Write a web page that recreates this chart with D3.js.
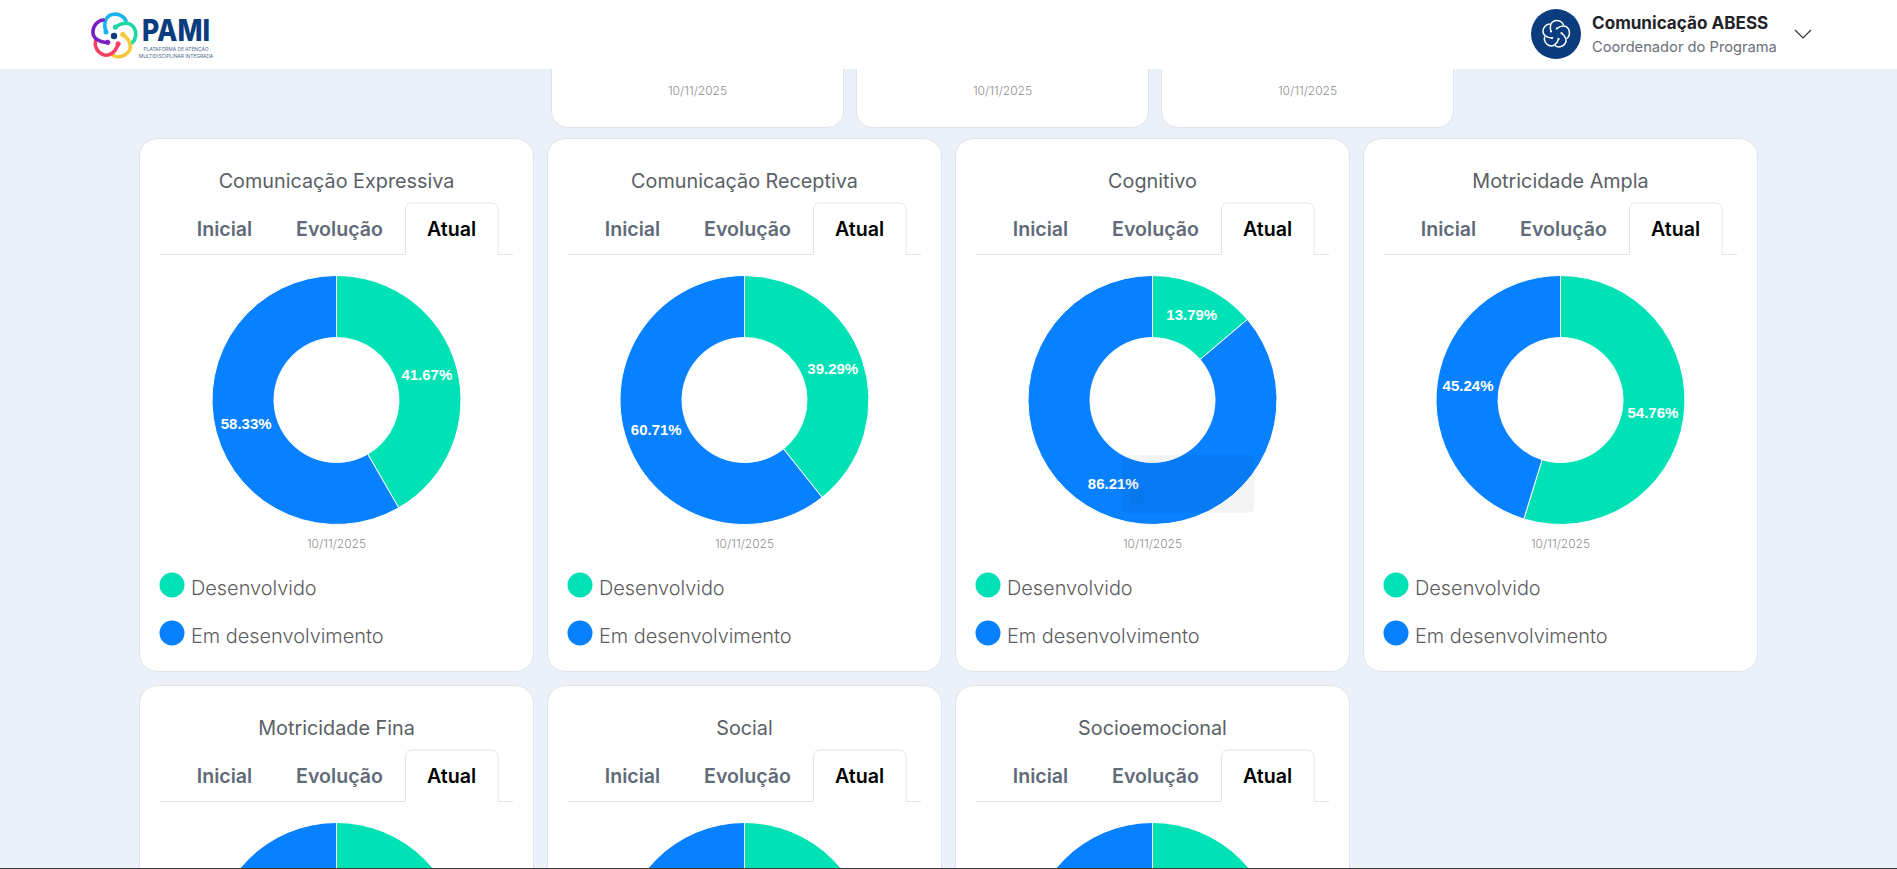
<!DOCTYPE html>
<html>
<head>
<meta charset="utf-8">
<title>PAMI</title>
<script src="https://cdn.jsdelivr.net/npm/d3@7"></script>
<style>
    html, body { margin: 0; padding: 0; overflow: hidden; background: #ebf0f9; }
    svg { display: block; }
    text { font-family: Inter, "Noto Sans", sans-serif; }
    .pct { font-family: "Liberation Sans", Arial, sans-serif; font-weight: 700; font-size: 15px; fill: #fff; }
</style>
</head>
<body>
<svg id="page" width="1897" height="869"></svg>
<script>
// Chart values
var areas = ['Comunicação Expressiva', 'Comunicação Receptiva', 'Cognitivo', 'Motricidade Ampla',
    'Motricidade Fina', 'Social', 'Socioemocional'];
var desenvolvido = [41.67, 39.29, 13.79, 54.76, 50, 50, 50];     // last three are below the fold, estimated
var emDesenvolvimento = [58.33, 60.71, 86.21, 45.24, 50, 50, 50];
var legendLabels = ['Desenvolvido', 'Em desenvolvimento'];
var tabs = ['Inicial', 'Evolução', 'Atual'];
var chartDate = '10/11/2025';
var topCardDates = [chartDate, chartDate, chartDate];

var GREEN = '#00e2b6', BLUE = '#0781ff', BORDER = '#dfe3ec';
var color = d3.scaleOrdinal().domain(legendLabels).range([GREEN, BLUE]);

var svg = d3.select('#page');

// Row of cards scrolled under the header
var topCards = svg.append('g').selectAll('g')
    .data(topCardDates)
    .join('g')
    .attr('transform', function(d, i) { return 'translate(' + (552 + i * 305) + ',0)'; });

topCards.append('rect')
    .attr('x', -0.5).attr('y', 20.5)
    .attr('width', 292).attr('height', 107)
    .attr('rx', 16)
    .attr('fill', '#fff').attr('stroke', BORDER);

topCards.append('text')
    .attr('x', 145.5).attr('y', 95)
    .attr('text-anchor', 'middle')
    .attr('font-size', 12).attr('font-weight', 300).attr('fill', '#8f8f8f')
    .text(function(d) { return d; });

// Donut cards
var pie = d3.pie().sort(null).value(function(d) { return d.value; });
var arc = d3.arc().innerRadius(62.5).outerRadius(124.5);

function slices(d, i) {
    return pie([
        {key: legendLabels[0], value: desenvolvido[i]},
        {key: legendLabels[1], value: emDesenvolvimento[i]}
    ]);
}

var cards = svg.append('g').selectAll('g')
    .data(areas)
    .join('g')
    .attr('transform', function(d, i) {
        return 'translate(' + (140 + (i % 4) * 408) + ',' + (139 + Math.floor(i / 4) * 547) + ')';
    });

// The second row runs past the window, only the first row shows its lower half
var fullCards = cards.filter(function(d, i) { return i < 4; });

cards.append('rect')
    .attr('x', -0.5).attr('y', -0.5)
    .attr('width', 394).attr('height', 533)
    .attr('rx', 18)
    .attr('fill', '#fff').attr('stroke', BORDER);

cards.append('text')
    .attr('x', 196.5).attr('y', 48.5)
    .attr('text-anchor', 'middle')
    .attr('font-size', 19.8).attr('fill', '#5a5f66')
    .text(function(d) { return d; });

// Tab strip
cards.append('path')
    .attr('d', 'M20,115.5H265.5V70a6,6 0 0 1 6,-6H352a6,6 0 0 1 6,6V115.5H373')
    .attr('fill', 'none').attr('stroke', BORDER);

var tabCenters = [84.5, 199.5, 311.5];
tabs.forEach(function(tab, t) {
    cards.append('text')
        .attr('x', tabCenters[t]).attr('y', 97)
        .attr('text-anchor', 'middle')
        .attr('font-size', 19.6).attr('font-weight', 600)
        .attr('fill', t === 2 ? '#000' : '#5f6b78')
        .text(tab);
});

// Donuts
var donuts = cards.append('g')
    .attr('transform', 'translate(196.5,261)');

donuts.selectAll('path')
    .data(slices)
    .join('path')
    .attr('d', arc)
    .attr('fill', function(d) { return color(d.data.key); })
    .attr('stroke', '#fff').attr('stroke-width', 1);

// Leftover tooltip fading out over the Cognitivo donut
var ghost = svg.append('g').attr('transform', 'translate(1122,455)');
ghost.append('rect').attr('width', 132).attr('height', 58).attr('rx', 6).attr('fill', 'rgba(0,0,0,0.045)');
ghost.append('text').attr('x', 10).attr('y', 22)
    .attr('font-size', 14).attr('font-weight', 700).attr('fill', 'rgba(0,0,0,0.025)')
    .text('A Desenvolver');
ghost.append('rect').attr('x', 8).attr('y', 35).attr('width', 15).attr('height', 15).attr('fill', 'rgba(0,0,0,0.02)');
ghost.append('text').attr('x', 26).attr('y', 48)
    .attr('font-size', 14).attr('fill', 'rgba(0,0,0,0.025)')
    .text(chartDate);

fullCards.select('g').selectAll('text')
    .data(function(d) { return slices(d, areas.indexOf(d)); })
    .join('text')
    .attr('class', 'pct')
    .attr('transform', function(d) { return 'translate(' + arc.centroid(d) + ')'; })
    .attr('text-anchor', 'middle')
    .attr('dy', '0.3em')
    .text(function(d) { return d.value.toFixed(2) + '%'; });

fullCards.append('text')
    .attr('x', 196.5).attr('y', 409)
    .attr('text-anchor', 'middle')
    .attr('font-size', 12).attr('font-weight', 300).attr('fill', '#8f8f8f')
    .text(chartDate);

// Legend
legendLabels.forEach(function(label, l) {
    var row = fullCards.append('g')
        .attr('transform', 'translate(0,' + (446 + l * 48) + ')');
    row.append('circle')
        .attr('cx', 32).attr('r', 12.5)
        .attr('fill', color(label));
    row.append('text')
        .attr('x', 51).attr('y', 10)
        .attr('font-size', 19.9).attr('font-weight', 300).attr('fill', '#5c5c5c')
        .text(label);
});

// Header
var header = svg.append('g');
header.append('rect').attr('width', 1897).attr('height', 69).attr('fill', '#fff');

var petal = 'M-8,-4C-11,-13 -8,-20 -2,-21.5C4,-23 10,-20 12,-15';
var logoColors = ['#19b4f0', '#1cd6a8', '#f5c93a', '#f43f63', '#7a1fc2'];

function drawFlower(parent, x, y, scale, colors, width) {
    var g = parent.append('g')
        .attr('transform', 'translate(' + x + ',' + y + ') scale(' + scale + ')');
    colors.forEach(function(c, i) {
        var p = g.append('g').attr('transform', 'rotate(' + i * 72 + ')');
        p.append('path').attr('d', petal)
            .attr('fill', 'none').attr('stroke', c)
            .attr('stroke-width', width).attr('stroke-linecap', 'round');
        p.append('circle').attr('cx', -8).attr('cy', -4).attr('r', width * 0.7).attr('fill', c);
    });
    return g;
}

var logo = drawFlower(header, 114, 36, 1, logoColors, 3.6);
logo.append('circle').attr('r', 3.2).attr('fill', '#0b3d7e');

header.append('text')
    .attr('x', 142).attr('y', 41)
    .attr('font-size', 30).attr('font-weight', 800).attr('fill', '#0b3d7e')
    .attr('textLength', 68).attr('lengthAdjust', 'spacingAndGlyphs')
    .text('PAMI');
header.append('text')
    .attr('x', 176).attr('y', 50.5)
    .attr('text-anchor', 'middle')
    .attr('font-size', 4.9).attr('fill', '#4f6b8f')
    .text('PLATAFORMA DE ATENÇÃO');
header.append('text')
    .attr('x', 176).attr('y', 57.5)
    .attr('text-anchor', 'middle')
    .attr('font-size', 4.9).attr('fill', '#4f6b8f')
    .text('MULTIDISCIPLINAR INTEGRADA');

header.append('circle')
    .attr('cx', 1556).attr('cy', 34).attr('r', 25)
    .attr('fill', '#0b3d7e');
drawFlower(header, 1556, 34, 0.62, d3.range(5).map(function() { return '#fff'; }), 2.4);

header.append('text')
    .attr('x', 1592).attr('y', 29)
    .attr('font-size', 17.1).attr('font-weight', 700).attr('fill', '#1f2328')
    .text('Comunicação ABESS');
header.append('text')
    .attr('x', 1592).attr('y', 52)
    .attr('font-size', 14.7).attr('fill', '#6a7078')
    .text('Coordenador do Programa');
header.append('path')
    .attr('d', 'M1795,30L1803,38L1811,30')
    .attr('fill', 'none').attr('stroke', '#333').attr('stroke-width', 1.2);

// Window edge along the bottom of the capture
svg.append('rect')
    .attr('x', 0).attr('y', 868)
    .attr('width', 1897).attr('height', 1)
    .attr('fill', '#3a3a3a');
</script>
</body>
</html>
